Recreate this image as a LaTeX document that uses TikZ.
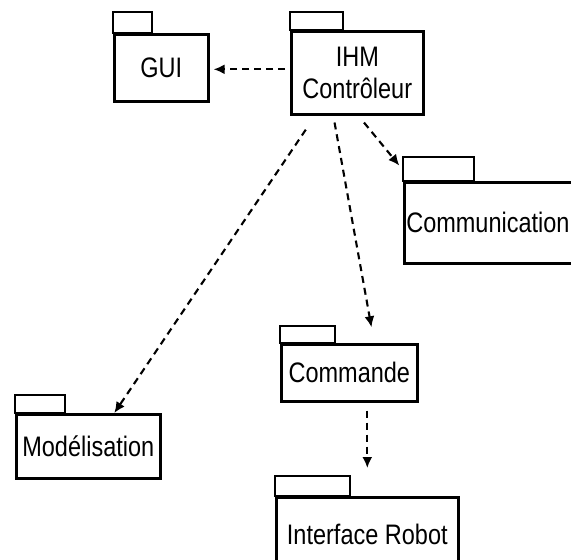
\documentclass[tikz,border=0pt]{standalone}
\usepackage{fontspec}
\setmainfont{Liberation Sans}
\usepackage{graphicx}
\usepackage{tikz}
\usetikzlibrary{arrows.meta,calc,positioning}

\newcommand\tallt[1]{\scalebox{1}[1.2]{#1}}
\newcommand\pkgtab[3]{\draw[pkgline] (#1.north west) rectangle ++(#2,-#3);}

\tikzset{
    pkgline/.style={line width=2.6pt, draw=black, fill=white},
    pkg/.style={pkgline, rectangle, anchor=north west, inner sep=0pt,
        font=\fontsize{23.5}{32}\selectfont, align=center},
    dep/.style={line width=2.1pt, dash pattern=on 7pt off 5pt,
        -{Latex[length=11pt,width=10pt]}}
}

\begin{document}
\begin{tikzpicture}[x=1pt, y=-1pt]
    \useasboundingbox (0,0) rectangle (571,560);
    \clip (0,0) rectangle (571,560);
    \fill[white] (0,0) rectangle (571,560);

    \node[pkg, minimum width=94pt, minimum height=67pt] (gui) at (113, 33) {\raisebox{-6pt}{\tallt{GUI}}};
    \pkgtab{gui}{39}{21}

    \node[pkg, minimum width=132pt, minimum height=83pt] (ihm) at (290, 30) {\tallt{IHM}\\\tallt{Contrôleur}};
    \pkgtab{ihm}{53}{18}

    \node[pkg, text width=171pt, inner xsep=2pt, align=left, minimum height=81pt] (com) at (403, 181) {\tallt{Communication}};
    \pkgtab{com}{71}{24}

    \node[pkg, minimum width=136pt, minimum height=57pt] (cmd) at (280, 343) {\tallt{Commande}};
    \pkgtab{cmd}{55}{17}

    \node[pkg, minimum width=144pt, minimum height=64pt] (mod) at (15, 413) {\tallt{Modélisation}};
    \pkgtab{mod}{50}{18}

    \node[pkg, minimum width=182pt, minimum height=74pt] (rob) at (275, 496) {\tallt{Interface Robot}};
    \pkgtab{rob}{75}{20}

    % dependances
    \draw[dep, shorten <=5pt, shorten >=4pt] ([yshift=3.5pt]ihm.west) -- ([yshift=-1.5pt]gui.east);
    \draw[dep, shorten <=17pt] ([xshift=-42pt]ihm.south) -- ([xshift=26pt]mod.north);
    \draw[dep, shorten <=7pt, shorten >=16pt] ([xshift=-24pt]ihm.south) -- ([xshift=25pt]cmd.north);
    \draw[dep, shorten <=9pt, shorten >=20pt] ([xshift=1pt]ihm.south) -- ([xshift=9pt]com.north west);
    \draw[dep, shorten <=8pt, shorten >=28pt] (cmd.south -| rob.north) -- (rob.north);
\end{tikzpicture}
\end{document}
